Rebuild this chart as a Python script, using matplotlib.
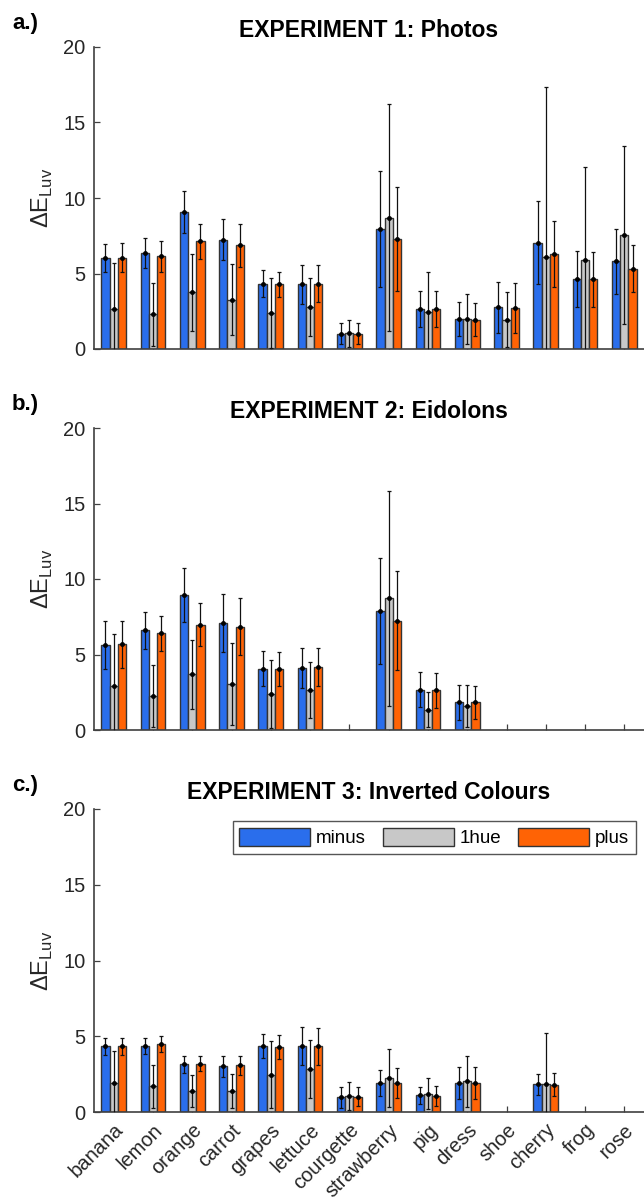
import numpy as np
import matplotlib
matplotlib.use('Agg')
import matplotlib.pyplot as plt

plt.rcParams['font.family'] = ['Liberation Sans', 'DejaVu Sans']

objects = ['banana', 'lemon', 'orange', 'carrot', 'grapes', 'lettuce', 'courgette',
           'strawberry', 'pig', 'dress', 'shoe', 'cherry', 'frog', 'rose']
conditions = ['minus', '1hue', 'plus']
nan = np.nan

# EXPERIMENT 1: Photos (mean, error) per condition
exp1_minus = [6.03, 6.38, 9.08, 7.24, 4.32, 4.28, 1.01, 7.95, 2.63, 1.96, 2.76, 7.04, 4.61, 5.81]
exp1_minus_err = [0.93, 0.99, 1.37, 1.36, 0.88, 1.27, 0.68, 3.82, 1.19, 1.13, 1.70, 2.76, 1.86, 2.16]
exp1_hue = [2.65, 2.30, 3.75, 3.27, 2.39, 2.76, 1.03, 8.70, 2.43, 1.99, 1.94, 6.07, 5.89, 7.55]
exp1_hue_err = [3.03, 2.08, 2.53, 2.37, 2.32, 1.91, 0.88, 7.52, 2.67, 1.68, 1.83, 11.3, 6.18, 5.90]
exp1_plus = [6.03, 6.14, 7.13, 6.86, 4.28, 4.32, 1.01, 7.26, 2.63, 1.94, 2.72, 6.31, 4.61, 5.32]
exp1_plus_err = [0.96, 1.03, 1.14, 1.43, 0.83, 1.21, 0.68, 3.45, 1.19, 1.10, 1.68, 2.19, 1.84, 1.57]

# EXPERIMENT 2: Eidolons
exp2_minus = [5.64, 6.59, 8.93, 7.09, 4.07, 4.11, nan, 7.87, 2.67, 1.83, nan, nan, nan, nan]
exp2_minus_err = [1.57, 1.22, 1.79, 1.90, 1.17, 1.30, nan, 3.53, 1.17, 1.15, nan, nan, nan, nan]
exp2_hue = [2.92, 2.25, 3.69, 3.05, 2.39, 2.65, nan, 8.71, 1.35, 1.59, nan, nan, nan, nan]
exp2_hue_err = [3.44, 2.04, 2.28, 2.72, 2.25, 1.88, nan, 7.09, 1.17, 1.37, nan, nan, nan, nan]
exp2_plus = [5.68, 6.41, 6.98, 6.85, 4.02, 4.15, nan, 7.25, 2.63, 1.83, nan, nan, nan, nan]
exp2_plus_err = [1.57, 1.17, 1.40, 1.90, 1.13, 1.26, nan, 3.29, 1.17, 1.11, nan, nan, nan, nan]

# EXPERIMENT 3: Inverted Colours
exp3_minus = [4.34, 4.36, 3.15, 3.02, 4.34, 4.36, 0.97, 1.92, 1.10, 1.94, nan, 1.83, nan, nan]
exp3_minus_err = [0.55, 0.55, 0.57, 0.70, 0.79, 1.26, 0.68, 0.88, 0.55, 1.06, nan, 0.68, nan, nan]
exp3_hue = [1.92, 1.70, 1.39, 1.37, 2.47, 2.86, 1.06, 2.27, 1.21, 2.03, nan, 1.87, nan, nan]
exp3_hue_err = [2.11, 1.43, 1.03, 1.12, 2.22, 1.92, 0.92, 1.92, 1.04, 1.67, nan, 3.37, nan, nan]
exp3_plus = [4.34, 4.47, 3.19, 3.08, 4.30, 4.34, 1.01, 1.92, 1.06, 1.94, nan, 1.81, nan, nan]
exp3_plus_err = [0.55, 0.53, 0.48, 0.62, 0.79, 1.23, 0.64, 1.01, 0.68, 1.06, nan, 0.75, nan, nan]

titles = ['EXPERIMENT 1: Photos', 'EXPERIMENT 2: Eidolons', 'EXPERIMENT 3: Inverted Colours']
panel_tags = ['a.)', 'b.)', 'c.)']
colors = ['#2A6EEC', '#C8C8C8', '#FF6305']
axcol = '#262626'

W, H = 644, 1202
fig = plt.figure(figsize=(W / 100, H / 100), dpi=100)

# axes in pixels: (top of y=20, bottom of y=0)
ax_px = [(47, 349), (428, 730), (809, 1112)]
left_px = 94

experiments = [
    ((exp1_minus, exp1_minus_err), (exp1_hue, exp1_hue_err), (exp1_plus, exp1_plus_err)),
    ((exp2_minus, exp2_minus_err), (exp2_hue, exp2_hue_err), (exp2_plus, exp2_plus_err)),
    ((exp3_minus, exp3_minus_err), (exp3_hue, exp3_hue_err), (exp3_plus, exp3_plus_err)),
]

x = np.arange(1, len(objects) + 1)
bw = 0.21
offsets = [-bw, 0, bw]

for i, (series, (top, bot)) in enumerate(zip(experiments, ax_px)):
    ax = fig.add_axes([left_px / W, 1 - bot / H, 1 - left_px / W, (bot - top) / H])
    for j, (vals, errs) in enumerate(series):
        vals = np.array(vals)
        errs = np.array(errs)
        ax.bar(x + offsets[j], vals, width=bw, color=colors[j], edgecolor='#333333',
               linewidth=1.0, label=conditions[j], zorder=2)
        ax.errorbar(x + offsets[j], vals, yerr=errs, fmt='.', color='black', ecolor='#111111',
                    elinewidth=0.9, capsize=1.5, capthick=0.9, markersize=5, zorder=3)
    ax.set_xlim(0.5, 14.5)
    ax.set_ylim(0, 20)
    ax.set_yticks([0, 5, 10, 15, 20])
    ax.set_xticks(x)
    for s in ['top', 'right']:
        ax.spines[s].set_visible(False)
    for s in ['left', 'bottom']:
        ax.spines[s].set_color('#404040')
        ax.spines[s].set_linewidth(1.2)
    ax.tick_params(direction='in', length=4, width=0.9, color='#404040',
                   labelsize=14.5, labelcolor=axcol, pad=6)
    if i < 2:
        ax.set_xticklabels([])
    else:
        ax.set_xticklabels(objects, rotation=45, ha='right', rotation_mode='anchor')
    ax.set_ylabel('ΔE$_{\\mathregular{Luv}}$', fontsize=17, color=axcol, labelpad=6)
    ax.set_title(titles[i], fontsize=16.5, fontweight='bold', pad=7)
    fig.text(12 / W, 1 - (top - 34) / H, panel_tags[i], fontsize=16, fontweight='bold',
             ha='left', va='top')
    if i == 2:
        leg = ax.legend(loc='upper right', bbox_to_anchor=(0.985, 0.96), borderaxespad=0,
                        ncol=3, fontsize=13.5, handlelength=3.8, handleheight=1.1,
                        handletextpad=0.3, columnspacing=0.9, borderpad=0.35,
                        fancybox=False, framealpha=1)
        leg.get_frame().set_edgecolor('#555555')
        leg.get_frame().set_linewidth(1.0)

fig.savefig('out.png', dpi=100)
